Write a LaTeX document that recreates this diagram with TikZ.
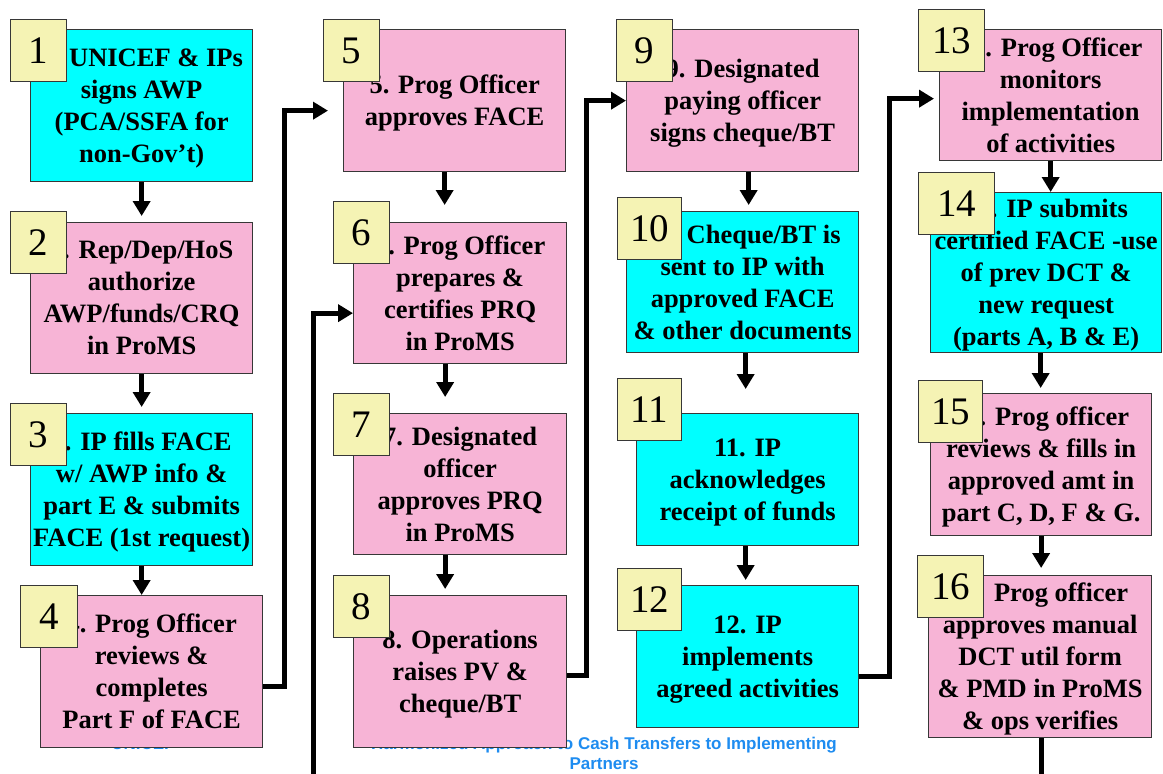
\documentclass[tikz,border=0pt]{standalone}
\usepackage{fontspec}
\setmainfont{Liberation Serif}
\newfontfamily\footfont{Liberation Sans}
\usetikzlibrary{arrows.meta, positioning}
\definecolor{ipcyan}{RGB}{0,255,255}
\definecolor{unipink}{RGB}{247,180,214}
\definecolor{numyellow}{RGB}{245,243,180}
\definecolor{footblue}{RGB}{30,140,240}
\definecolor{edgegray}{RGB}{55,55,55}

\tikzset{
  stepbox/.style={draw=edgegray, line width=1.3pt, anchor=north west, align=center,
    inner sep=2pt, text depth=-10pt, font=\fontsize{26.5}{32}\selectfont\bfseries},
  unibox/.style={stepbox, fill=unipink},
  ipbox/.style={stepbox, fill=ipcyan},
  numsq/.style={draw=edgegray, line width=1.2pt, fill=numyellow, anchor=north west,
    inner sep=0pt, minimum height=62pt, font=\fontsize{39}{39}\selectfont},
  flow/.style={line width=5pt, -{Triangle[width=17pt,length=15pt]}},
}

\begin{document}
\begin{tikzpicture}[x=1pt, y=-1pt]
  \useasboundingbox (0,0) rectangle (1163,774);

  % footer
  \node[font=\footfont\fontsize{17}{20}\selectfont\bfseries, text=footblue, inner sep=0pt,
    anchor=north] (unicef) at (143,737) {UNICEF};
  \node[font=\footfont\fontsize{17}{20}\selectfont\bfseries, text=footblue, inner sep=0pt,
    align=center, anchor=north] (foot) at (604,737)
    {Harmonized Approach to Cash Transfers to Implementing\\Partners};

  % first column
  \node[ipbox, minimum width=222pt, minimum height=152pt] (b1) at (30,29)
    {1. UNICEF \& IPs\\signs AWP\\(PCA/SSFA for\\non-Gov't)};
  \node[unibox, minimum width=222pt, minimum height=151pt] (b2) at (30,222)
    {2. Rep/Dep/HoS\\authorize\\AWP/funds/CRQ\\in ProMS};
  \node[ipbox, minimum width=222pt, minimum height=152pt] (b3) at (30,413)
    {3. IP fills FACE\\w/ AWP info \&\\part E \& submits\\FACE (1st request)};
  \node[unibox, minimum width=222pt, minimum height=152pt] (b4) at (40,595)
    {4. Prog Officer\\reviews \&\\completes\\Part F of FACE};

  % second column
  \node[unibox, minimum width=222pt, minimum height=142pt] (b5) at (343,29)
    {5. Prog Officer\\approves FACE};
  \node[unibox, minimum width=213pt, minimum height=141pt] (b6) at (353,222)
    {6. Prog Officer\\prepares \&\\certifies PRQ\\in ProMS};
  \node[unibox, minimum width=213pt, minimum height=141pt] (b7) at (353,413)
    {7. Designated\\officer\\approves PRQ\\in ProMS};
  \node[unibox, minimum width=213pt, minimum height=152pt] (b8) at (353,595)
    {8. Operations\\raises PV \&\\cheque/BT};

  % third column
  \node[unibox, minimum width=232pt, minimum height=142pt] (b9) at (626,29)
    {9. Designated\\paying officer\\signs cheque/BT};
  \node[ipbox, minimum width=232pt, minimum height=141pt] (b10) at (626,211)
    {10. Cheque/BT is\\sent to IP with\\approved FACE\\\& other documents};
  \node[ipbox, minimum width=222pt, minimum height=132pt] (b11) at (636,413)
    {11. IP\\acknowledges\\receipt of funds};
  \node[ipbox, minimum width=222pt, minimum height=142pt] (b12) at (636,585)
    {12. IP\\implements\\agreed activities};

  % fourth column
  \node[unibox, minimum width=222pt, minimum height=131pt] (b13) at (939,29)
    {13. Prog Officer\\monitors\\implementation\\of activities};
  \node[ipbox, minimum width=231pt, minimum height=160pt] (b14) at (930,192)
    {14. IP submits\\certified FACE -use\\of prev DCT \&\\new request\\(parts A, B \& E)};
  \node[unibox, minimum width=221pt, minimum height=142pt] (b15) at (930,393)
    {15. Prog officer\\reviews \& fills in\\approved amt in\\part C, D, F \& G.};
  \node[unibox, minimum width=223pt, minimum height=162pt] (b16) at (928,575)
    {16. Prog officer\\approves manual\\DCT util form\\\& PMD in ProMS\\\& ops verifies};

  % step numbers
  \node[numsq, minimum width=56pt] (s1) at (10,19) {1};
  \node[numsq, minimum width=56pt] (s2) at (10,211) {2};
  \node[numsq, minimum width=56pt] (s3) at (10,403) {3};
  \node[numsq, minimum width=57pt] (s4) at (20,585) {4};
  \node[numsq, minimum width=56pt] (s5) at (323,19) {5};
  \node[numsq, minimum width=56pt] (s6) at (333,201) {6};
  \node[numsq, minimum width=56pt] (s7) at (333,393) {7};
  \node[numsq, minimum width=56pt] (s8) at (333,575) {8};
  \node[numsq, minimum width=56pt] (s9) at (616,19) {9};
  \node[numsq, minimum width=64pt] (s10) at (617,197) {10};
  \node[numsq, minimum width=64pt] (s11) at (617,378) {11};
  \node[numsq, minimum width=64pt] (s12) at (617,568) {12};
  \node[numsq, minimum width=66pt] (s13) at (918,9) {13};
  \node[numsq, minimum width=76pt] (s14) at (918,172) {14};
  \node[numsq, minimum width=64pt] (s15) at (918,380) {15};
  \node[numsq, minimum width=66pt] (s16) at (917,555) {16};

  % flow inside the columns
  \draw[flow, shorten >=6pt] (b1) -- (b2);
  \draw[flow, shorten >=6pt] (b2) -- (b3);
  \draw[flow] (b3.south) -- (b3.south |- b4.north);
  \draw[flow, shorten >=17pt] ([xshift=-10pt]b5.south) -- ([xshift=-10pt]b5.south |- b6.north);
  \draw[flow, shorten >=16pt] ([xshift=-15pt]b6.south) -- ([xshift=-15pt]b6.south |- b7.north);
  \draw[flow, shorten >=6pt] ([xshift=-15pt]b7.south) -- ([xshift=-15pt]b7.south |- b8.north);
  \draw[flow, shorten >=6pt] ([xshift=6pt]b9.south) -- ([xshift=6pt]b9.south |- b10.north);
  \draw[flow, shorten >=24pt] ([xshift=3pt]b10.south) -- ([xshift=3pt]b10.south |- b11.north);
  \draw[flow, shorten >=5pt] ([xshift=-2pt]b11.south) -- ([xshift=-2pt]b11.south |- b12.north);
  \draw[flow] (b13.south) -- (b13.south |- b14.north);
  \draw[flow, shorten >=5pt] ([xshift=-5.5pt]b14.south) -- ([xshift=-5.5pt]b14.south |- b15.north);
  \draw[flow, shorten >=7pt] (b15.south) -- (b15.south |- b16.north);

  % links between the columns
  \draw[flow, shorten >=15pt] ([yshift=-15pt]b4.east) -- ++(21,0) |- ([yshift=-10pt]b5.west);
  \draw[flow] ([yshift=-4pt]b8.east) -- ++(19,0) |- (b9.west);
  \draw[flow, shorten >=5pt] ([yshift=-20pt]b12.east) -- ++(30,0) |- ([yshift=-3.5pt]b13.west);

  % loose ends at the bottom
  \coordinate (feed) at (313,774);
  \coordinate (tail) at (1041,774);
  \draw[flow] (feed) |- ([yshift=-20pt]b6.west);
  \draw[line width=5pt] (b16.south -| tail) -- (tail);
\end{tikzpicture}
\end{document}
